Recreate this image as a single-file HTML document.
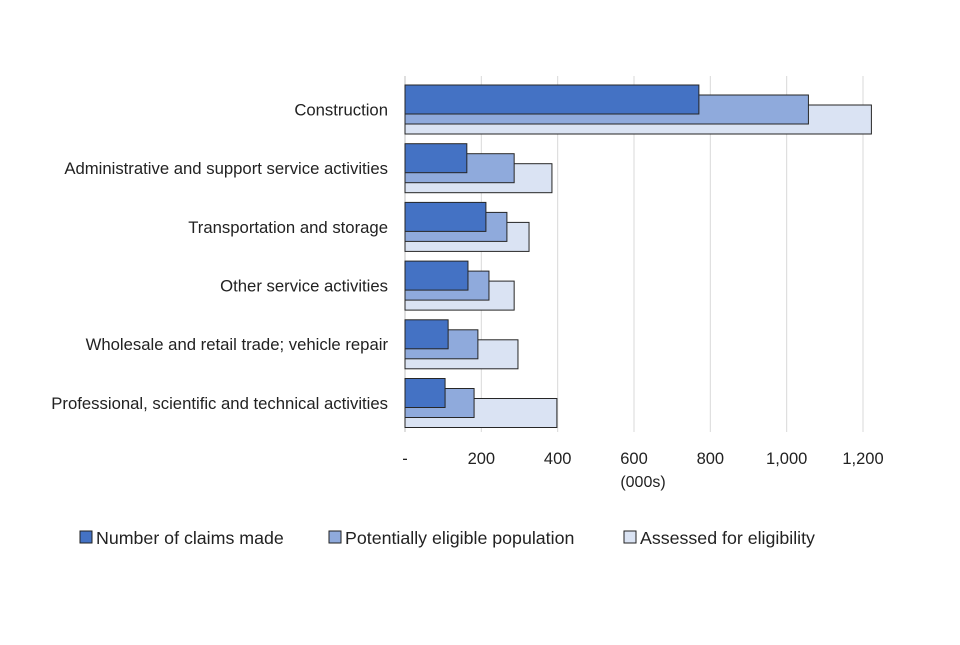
<!DOCTYPE html>
<html><head><meta charset="utf-8"><style>
body{margin:0;background:#fff;}
svg text{font-family:"Liberation Sans",Calibri,sans-serif;fill:#222;}
</style></head><body>
<svg width="960" height="640" id="chart">
<g id="grid"></g><g id="bars"></g><g id="labels"></g>
<text x="643" y="487" font-size="16" text-anchor="middle">(000s)</text>
<g>
<rect x="80" y="531" width="12" height="12" fill="#4472C4" stroke="#222"/>
<text x="96" y="544" font-size="17.8">Number of claims made</text>
<rect x="329" y="531" width="12" height="12" fill="#8FAADC" stroke="#222"/>
<text x="345" y="544" font-size="17.8">Potentially eligible population</text>
<rect x="624" y="531" width="12" height="12" fill="#DAE3F3" stroke="#222"/>
<text x="640" y="544" font-size="17.8">Assessed for eligibility</text>
</g>
</svg>
<script>
const categories=["Construction","Administrative and support service activities","Transportation and storage","Other service activities","Wholesale and retail trade; vehicle repair","Professional, scientific and technical activities"];
const claims=[770,162,212,165,113,105];
const potential=[1057,286,267,220,191,181];
const assessed=[1222,385,325,286,296,398];
const ticks=[0,200,400,600,800,1000,1200];
const tickLabels=["-","200","400","600","800","1,000","1,200"];
const NS="http://www.w3.org/2000/svg";
const x0=405,x1=863,top0=78,band=58.7;
const xs=v=>x0+(x1-x0)*v/1200;
function mk(tag,attrs,parent){const e=document.createElementNS(NS,tag);for(const k in attrs)e.setAttribute(k,attrs[k]);document.getElementById(parent).appendChild(e);return e;}
ticks.forEach((t,i)=>{
 const g=mk('line',{x1:xs(t),x2:xs(t),y1:76,y2:432,stroke:t===0?'#bfbfbf':'#d9d9d9','stroke-width':1},'grid');
 
 
 const l=mk('text',{x:xs(t),y:464,'font-size':16.5,'text-anchor':'middle'},'labels');
 l.textContent=tickLabels[i];
 
 
});
const series=[[assessed,'#DAE3F3',27,'bar-assessed'],[potential,'#8FAADC',17,'bar-potential'],[claims,'#4472C4',7,'bar-claims']];
categories.forEach((c,i)=>{
 const t=top0+i*band;
 series.forEach(s=>{
  const r=mk('rect',{x:x0,y:t+s[2],width:xs(s[0][i])-x0,height:29,fill:s[1],stroke:'#262626','stroke-width':1},'bars');
  
  
 });
 const l=mk('text',{x:388,y:t+band/2+8,'font-size':16.7,'text-anchor':'end'},'labels');
 l.textContent=c;
 
 
});
</script>
</body></html>
